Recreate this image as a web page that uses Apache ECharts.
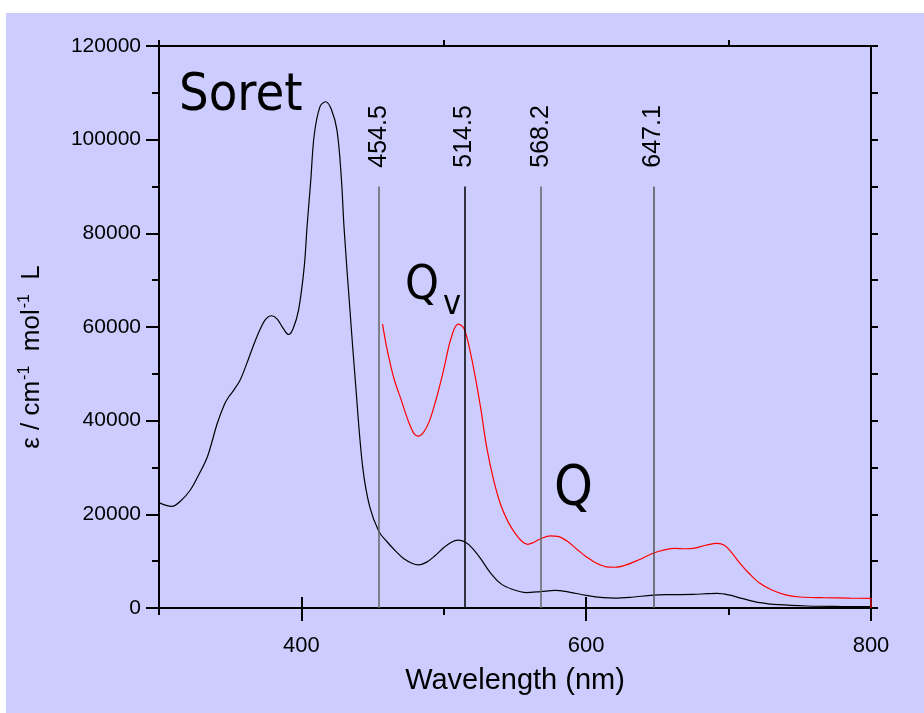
<!DOCTYPE html>
<html lang="en">
<head>
<meta charset="UTF-8">
<title>Absorption spectrum</title>
<script src="https://cdn.jsdelivr.net/npm/echarts@6/dist/echarts.min.js"></script>
<style>html,body{margin:0;padding:0;background:#fff;}</style>
</head>
<body>
<div id="main" style="width:924px;height:713px;"></div>
<script type="text/javascript">
// wavelength (nm) / epsilon values
var blackX = [300,305,309,315,322,328,334,341,346,349,352,357,362,366,371,375,379,383,387,391,394,398,402,404,406.5,409,413,417,421,425,428,430,434,438,443,448,454.5,460,466,472,478,482,488,494,500,505,510,515,520,526,532,540,548,558,568,578,588,600,612,620,632,647,660,675,685,692,700,710,722,735,755,780,800];
var blackY = [22500,21900,21700,22800,25200,28500,32300,39500,43500,45100,46300,48700,52500,55800,59500,61700,62400,61700,59800,58400,59500,63600,72900,81500,91000,101000,107000,108100,106500,102000,92000,81000,64000,48000,30200,21600,16300,14200,12200,10500,9500,9200,9800,11200,12900,14000,14500,14100,12800,10500,7800,5200,4000,3300,3500,3750,3400,2700,2200,2100,2300,2750,2850,2900,3050,3130,2800,2000,1140,700,430,320,280];

var redX = [457,460,465,470,475,479,482,486,490,495,500,505,510,514,518,522,526,530,535,540,545,550,555,559,563,568,575,580,587,594,600,607,614,620,628,637,647,655,662,670,676,684,692,697,702,708,715,722,730,740,750,766,785,800];
var redY = [60600,55500,49000,44500,40000,37300,36700,37600,40000,45000,51000,57500,60600,59800,55500,49500,42500,34500,27300,22000,18500,16000,14200,13600,14000,14800,15400,15300,14200,12400,10950,9600,8800,8700,9200,10300,11700,12400,12740,12650,12800,13400,13800,13400,11900,9540,7200,5270,3900,2800,2350,2200,2100,2070];

var laserLines = [454.5, 514.5, 568.2, 647.1];
var laserColors = ['#666', '#000', '#666', '#555'];
var lineTop = 90000;
var labelBase = 94000;

var xLabels = [400, 600, 800];
var xMinor = [300, 500, 700];

var font = '"Liberation Sans", Arial, sans-serif';
var bigFont = '"DejaVu Sans Condensed", "DejaVu Sans", sans-serif';

function pairs(xs, ys) {
    var out = [];
    for (var i = 0; i < xs.length; i++) out.push([xs[i], ys[i]]);
    return out;
}

var myChart = echarts.init(document.getElementById('main'));

var blackLine = {lineStyle: {color: '#000', width: 2}, onZero: false};
var tickStyle = {color: '#000', width: 2};

var graphics = [
    {type: 'rect', x: 0, y: 0, shape: {width: 924, height: 13}, style: {fill: '#fff'}, silent: true},
    {type: 'rect', x: 0, y: 0, shape: {width: 6, height: 713}, style: {fill: '#fff'}, silent: true},
    {
        type: 'text', x: 32, y: 357, rotation: Math.PI / 2,
        style: {
            text: '{b|ε / cm}{s|-1}{b|  mol}{s|-1}{b|  L}',
            align: 'center', verticalAlign: 'middle', textAlign: 'center', textVerticalAlign: 'middle',
            fill: '#000',
            rich: {
                b: {fontSize: 26, fontFamily: font, color: '#000'},
                s: {fontSize: 16, fontFamily: font, color: '#000', padding: [0, 0, 15, 1]}
            }
        }
    },
    {type: 'text', x: 179, y: 96, style: {text: 'Soret', font: '52px ' + bigFont, fill: '#000', align: 'left', verticalAlign: 'middle', textAlign: 'left', textVerticalAlign: 'middle'}},
    {type: 'text', x: 405, y: 287, style: {text: 'Q', font: '48px ' + bigFont, fill: '#000', align: 'left', verticalAlign: 'middle', textAlign: 'left', textVerticalAlign: 'middle'}},
    {type: 'text', x: 443, y: 305, style: {text: 'v', font: '34px ' + bigFont, fill: '#000', align: 'left', verticalAlign: 'middle', textAlign: 'left', textVerticalAlign: 'middle'}},
    {type: 'text', x: 554, y: 490, style: {text: 'Q', font: '55px ' + bigFont, fill: '#000', align: 'left', verticalAlign: 'middle', textAlign: 'left', textVerticalAlign: 'middle'}}
];

var option = {
    animation: false,
    backgroundColor: '#ccccff',
    grid: {left: 159, right: 53, top: 46, bottom: 105},
    xAxis: [
        {
            type: 'value', position: 'bottom', min: 300, max: 800, interval: 100,
            axisLine: blackLine,
            axisTick: {show: true, customValues: xMinor, length: 7, lineStyle: tickStyle},
            axisLabel: {customValues: xLabels, fontSize: 22, color: '#000', margin: 27, fontFamily: font},
            splitLine: {show: false},
            name: 'Wavelength (nm)', nameLocation: 'middle', nameGap: 58,
            nameTextStyle: {fontSize: 29, color: '#000', fontFamily: font}
        },
        {
            type: 'value', position: 'bottom', min: 300, max: 800, interval: 100,
            axisLine: {show: false},
            axisTick: {show: true, customValues: xLabels, length: 13, lineStyle: tickStyle},
            axisLabel: {show: false}, splitLine: {show: false}
        },
        {
            type: 'value', position: 'top', min: 300, max: 800, interval: 100,
            axisLine: blackLine,
            axisTick: {show: true, customValues: xMinor, length: 6, lineStyle: tickStyle},
            axisLabel: {show: false}, splitLine: {show: false}
        },
        {
            type: 'value', position: 'top', min: 300, max: 800, interval: 100,
            axisLine: {show: false},
            axisTick: {show: true, customValues: xLabels, length: 11, lineStyle: tickStyle},
            axisLabel: {show: false}, splitLine: {show: false}
        }
    ],
    yAxis: [
        {
            type: 'value', position: 'left', min: 0, max: 120000, interval: 20000,
            axisLine: blackLine,
            axisTick: {show: true, length: 13, lineStyle: tickStyle},
            minorTick: {show: true, splitNumber: 2, length: 7, lineStyle: tickStyle},
            axisLabel: {fontSize: 21, color: '#000', margin: 18, fontFamily: font,
                formatter: function (v) { return String(v); }},
            splitLine: {show: false}
        },
        {
            type: 'value', position: 'right', min: 0, max: 120000, interval: 10000,
            axisLine: blackLine,
            axisTick: {show: true, length: 7, lineStyle: tickStyle},
            axisLabel: {show: false}, splitLine: {show: false}
        }
    ],
    graphic: graphics,
    series: [
        {
            type: 'line', name: 'black', xAxisIndex: 0, yAxisIndex: 0,
            data: pairs(blackX, blackY),
            showSymbol: false, smooth: 0.35,
            lineStyle: {color: '#000', width: 1.2},
            markLine: {
                silent: true, symbol: ['none', 'none'],
                label: {show: false},
                data: laserLines.map(function (v, i) {
                    return [
                        {coord: [v, 0], lineStyle: {color: laserColors[i], width: 1.5, type: 'solid'}},
                        {coord: [v, lineTop]}
                    ];
                })
            }
        },
        {
            type: 'line', name: 'red', xAxisIndex: 0, yAxisIndex: 0,
            data: pairs(redX, redY),
            showSymbol: false, smooth: 0.35,
            lineStyle: {color: '#ff0000', width: 1.2}
        },
        {
            type: 'line', name: 'redEdge', xAxisIndex: 0, yAxisIndex: 0,
            data: [[redX[redX.length - 1], redY[redY.length - 1]], [redX[redX.length - 1], 0]],
            showSymbol: false,
            lineStyle: {color: '#ff0000', width: 1.2}
        }
    ]
};

myChart.setOption(option);

// rotated wavelength labels above the marker lines, placed through the chart's own scales
var labelTexts = laserLines.map(function (v) {
    var p = myChart.convertToPixel({seriesIndex: 0}, [v, labelBase]);
    return {
        type: 'text', x: p[0], y: p[1], rotation: Math.PI / 2,
        style: {text: v.toFixed(1), font: '25px ' + font, fill: '#000',
            align: 'left', verticalAlign: 'middle', textAlign: 'left', textVerticalAlign: 'middle'}
    };
});
myChart.setOption({graphic: graphics.concat(labelTexts)});
</script>
</body>
</html>
